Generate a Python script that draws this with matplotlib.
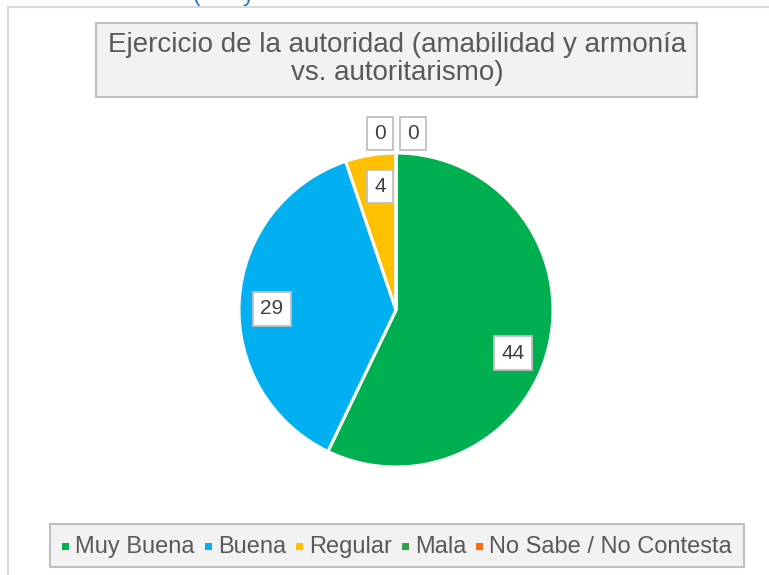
import matplotlib
matplotlib.use("Agg")
import matplotlib.pyplot as plt
from matplotlib.patches import Rectangle
from matplotlib.lines import Line2D
import numpy as np
from matplotlib import font_manager

categories = ["Muy Buena", "Buena", "Regular", "Mala", "No Sabe / No Contesta"]
values = [44, 29, 4, 0, 0]
colors = ["#00B050", "#00B0F0", "#FFC000", "#2FA24A", "#FF6A13"]
title = "Ejercicio de la autoridad (amabilidad y armonía\nvs. autoritarismo)"

names = {f.name for f in font_manager.fontManager.ttflist}
FONT = "Liberation Sans Narrow" if "Liberation Sans Narrow" in names else "Liberation Sans"
plt.rcParams["font.family"] = [FONT, "DejaVu Sans"]

W, H = 769, 575
fig = plt.figure(figsize=(W / 100, H / 100), dpi=100)

def fx(x):
    return x / W

def fy(y):
    return 1 - y / H

# outer frame
fig.add_artist(Line2D([fx(8), fx(8)], [fy(7), fy(575)], color="#D9D9D9", lw=1.5))
fig.add_artist(Line2D([fx(8), fx(769)], [fy(7), fy(7)], color="#D9D9D9", lw=1.5))

# cut-off heading fragments at top (as in the reference)
fig.text(fx(193), fy(1), "(", color="#1F6FC8", fontsize=16, va="baseline", family="Liberation Sans")
fig.text(fx(243), fy(1), "y", color="#1F6FC8", fontsize=16, va="baseline", family="Liberation Sans")

# title box
fig.add_artist(Rectangle((fx(96), fy(97)), fx(697) - fx(96), fy(23) - fy(97),
                         transform=fig.transFigure, facecolor="#F2F2F2",
                         edgecolor="#BFBFBF", lw=1.5))
fig.text(fx(397), fy(59), title, ha="center", va="center", fontsize=20,
         color="#595959", linespacing=1.08)

# pie
cx, cy, r = 396, 310, 157
ax = fig.add_axes([fx(cx - r), fy(cy + r), fx(2 * r), (2 * r) / H])
wedges, _ = ax.pie(values, colors=colors, startangle=90, counterclock=False,
                   radius=1, wedgeprops=dict(edgecolor="white", linewidth=2.2))
ax.set_xlim(-1, 1)
ax.set_ylim(-1, 1)
ax.set_aspect("equal")
ax.axis("off")

bbox = dict(boxstyle="square,pad=0.35", facecolor="white", edgecolor="#BFBFBF", lw=1.3)
label_r = [0.79, 0.79, 0.80, 1.13, 1.13]
angle_nudge = [-7, 2.5, -2, 0, 0]
x_shift = [0, 0, 0, -16, 17]
for w, v, lr, an, xs in zip(wedges, values, label_r, angle_nudge, x_shift):
    ang = np.deg2rad((w.theta1 + w.theta2) / 2 + an)
    ax.annotate(str(v), (lr * np.cos(ang), lr * np.sin(ang)), xytext=(xs, -1),
                textcoords="offset pixels", ha="center", va="center",
                fontsize=15, color="#404040", bbox=bbox,
                family=["Liberation Sans", "DejaVu Sans"], annotation_clip=False)

# legend (drawn manually so all labels share one baseline)
renderer = fig.canvas.get_renderer()
leg_fs = 17
pad_box, msz, mgap, igap = 12, 7, 6, 10
texts = []
widths = []
for c in categories:
    t = fig.text(0, fy(553), c, fontsize=leg_fs, color="#595959", va="baseline")
    texts.append(t)
    widths.append(t.get_window_extent(renderer).width)
total = 2 * pad_box + sum(msz + mgap + w for w in widths) + igap * (len(categories) - 1)
x0 = 397 - total / 2
fig.add_artist(Rectangle((fx(x0), fy(567)), fx(total), fy(524) - fy(567),
                         transform=fig.transFigure, facecolor="#F2F2F2",
                         edgecolor="#BFBFBF", lw=1.5, zorder=1))
x = x0 + pad_box
for t, w, c in zip(texts, widths, colors):
    fig.add_artist(Rectangle((fx(x), fy(549.5)), fx(msz), msz / H,
                             transform=fig.transFigure, facecolor=c,
                             edgecolor="none", zorder=2))
    x += msz + mgap
    t.set_x(fx(x))
    t.set_zorder(3)
    x += w + igap

fig.savefig("out.png", dpi=100)
